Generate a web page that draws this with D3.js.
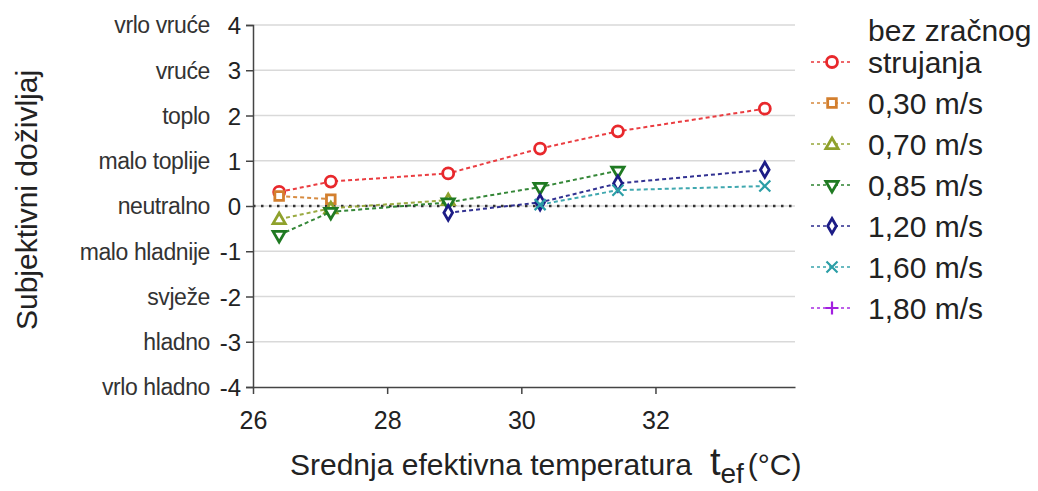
<!DOCTYPE html>
<html>
<head>
<meta charset="utf-8">
<script src="https://cdn.jsdelivr.net/npm/d3@7"></script>
<style>
  body { margin: 0; background: #fff; }
  svg { font-family: Arial, "Liberation Sans", sans-serif; }
</style>
</head>
<body>
<svg width="1038" height="491"></svg>
<script>
// podaci ocitani sa slike
let nazivi = ["bez zračnog strujanja", "0,30 m/s", "0,70 m/s", "0,85 m/s", "1,20 m/s", "1,60 m/s", "1,80 m/s"];
let boje = ["#e8282c", "#d37f2e", "#8fa12c", "#1f7a22", "#1c1c86", "#2b9ea6", "#a21fe0"];
let oblici = ["circle", "square", "triangle", "triangleDown", "diamond", "cross", "plus"];

let t_bez = [26.39, 27.16, 28.91, 30.28, 31.44, 33.63];
let v_bez = [0.31, 0.54, 0.72, 1.27, 1.65, 2.15];
let t_030 = [26.39, 27.16];
let v_030 = [0.22, 0.15];
let t_070 = [26.39, 27.16, 28.91];
let v_070 = [-0.29, -0.05, 0.13];
let t_085 = [26.39, 27.16, 28.91, 30.28, 31.44];
let v_085 = [-0.64, -0.13, 0.08, 0.42, 0.78];
let t_120 = [28.91, 30.28, 31.44, 33.63];
let v_120 = [-0.15, 0.08, 0.5, 0.8];
let t_160 = [30.28, 31.44, 33.63];
let v_160 = [0.03, 0.35, 0.44];
let t_180 = [];
let v_180 = [];

let y_vrijednosti = [4, 3, 2, 1, 0, -1, -2, -3, -4];
let y_opisi = ["vrlo vruće", "vruće", "toplo", "malo toplije", "neutralno", "malo hladnije", "svježe", "hladno", "vrlo hladno"];
let x_tickovi = [26, 28, 30, 32];

let serije = [
  [t_bez, v_bez], [t_030, v_030], [t_070, v_070], [t_085, v_085],
  [t_120, v_120], [t_160, v_160], [t_180, v_180]
].map((s, i) => ({
  naziv: nazivi[i], boja: boje[i], oblik: oblici[i],
  tocke: s[0].map((t, j) => ({ t: t, v: s[1][j] }))
}));

let $svg = d3.select("svg");

let x = d3.scaleLinear().domain([26, 34.08]).range([253, 795]);
let y = d3.scaleLinear().domain([-4, 4]).range([387, 25]);

// mreza
$svg.append("g").selectAll("line")
  .data(y_vrijednosti.filter(d => d > -4))
  .enter().append("line")
  .attr("x1", x(26)).attr("x2", x(34.08))
  .attr("y1", d => y(d)).attr("y2", d => y(d))
  .attr("stroke", "#d9d9d9").attr("stroke-width", 1.5);

// nula
$svg.append("line")
  .attr("x1", x(26)).attr("x2", x(34.08))
  .attr("y1", y(0)).attr("y2", y(0))
  .attr("stroke", "#333").attr("stroke-width", 2.5)
  .attr("stroke-dasharray", "2.5,5.5");

// osi
let yOs = $svg.append("g")
  .attr("transform", `translate(${x(26)},0)`)
  .call(d3.axisLeft(y).tickValues(y_vrijednosti).tickSize(7).tickFormat(d => d));
let xOs = $svg.append("g")
  .attr("transform", `translate(0,${y(-4)})`)
  .call(d3.axisBottom(x).tickValues(x_tickovi).tickSize(7).tickSizeOuter(0));

[yOs, xOs].forEach(o => {
  o.select(".domain").attr("stroke", "#444").attr("stroke-width", 1.5);
  o.selectAll(".tick line").attr("stroke", "#444").attr("stroke-width", 1.5);
  o.selectAll("text").attr("fill", "#222").style("font-family", "Arial, 'Liberation Sans', sans-serif");
});
yOs.selectAll("text").attr("x", -12).attr("dy", "0.36em").style("font-size", "24px");
xOs.selectAll("text").attr("y", 42).attr("dy", "0").style("font-size", "25px");

// opisi uz y os
$svg.append("g").selectAll("text")
  .data(y_opisi)
  .enter().append("text")
  .attr("x", 210)
  .attr("y", (d, i) => y(y_vrijednosti[i]))
  .attr("dy", "0.36em")
  .attr("text-anchor", "end")
  .attr("fill", "#333")
  .style("font-size", "23px")
  .style("letter-spacing", "-0.4px")
  .text(d => d);

// naslovi osi
$svg.append("text")
  .attr("transform", "translate(37,200) rotate(-90)")
  .attr("text-anchor", "middle")
  .attr("fill", "#222")
  .style("font-size", "30px")
  .text("Subjektivni doživljaj");

let xNaslov = $svg.append("text")
  .attr("x", 290).attr("y", 475)
  .attr("fill", "#222")
  .style("font-size", "30px");
xNaslov.append("tspan").text("Srednja efektivna temperatura");
xNaslov.append("tspan").attr("dx", 18).style("font-size", "38px").text("t");
xNaslov.append("tspan").attr("dy", 8).style("font-size", "28px").text("ef");
xNaslov.append("tspan").attr("dy", -8).attr("dx", 4).text("(°C)");

// markeri
function marker(g, oblik, boja) {
  if (oblik == "cross" || oblik == "plus") {
    let r = 5.5;
    let put = oblik == "cross"
      ? `M${-r},${-r}L${r},${r}M${-r},${r}L${r},${-r}`
      : `M${-r - 1},0L${r + 1},0M0,${-r - 1}L0,${r + 1}`;
    g.append("path").attr("d", put).attr("fill", "none")
      .attr("stroke", boja).attr("stroke-width", 2.2);
    return;
  }
  let sym = {
    circle: d3.symbolCircle, square: d3.symbolSquare, triangle: d3.symbolTriangle,
    triangleDown: d3.symbolTriangle, diamond: d3.symbolDiamond
  }[oblik];
  let size = { circle: 95, square: 75, triangle: 65, triangleDown: 65, diamond: 65 }[oblik];
  let p = g.append("path")
    .attr("d", d3.symbol().type(sym).size(size))
    .attr("fill", "#fff")
    .attr("stroke", boja)
    .attr("stroke-width", 2.8);
  if (oblik == "triangleDown") p.attr("transform", "rotate(180)");
  if (oblik == "triangle") p.attr("transform", "translate(0,1)");
}

let linija = d3.line().x(d => x(d.t)).y(d => y(d.v));

let $serije = $svg.append("g").selectAll("g.serija")
  .data(serije)
  .enter().append("g")
  .classed("serija", true);

$serije.append("path")
  .attr("d", d => linija(d.tocke))
  .attr("fill", "none")
  .attr("stroke", d => d.boja)
  .attr("stroke-width", 2)
  .attr("stroke-dasharray", "4,3")
  .attr("opacity", 0.9);

$serije.each(function(s) {
  let g = d3.select(this);
  s.tocke.forEach(p => {
    let m = g.append("g").attr("transform", `translate(${x(p.t)},${y(p.v)})`);
    marker(m, s.oblik, s.boja);
  });
});

// legenda
let leg_y = [62, 103, 144, 185, 226, 267, 308];
let $leg = $svg.append("g");
$leg.append("text")
  .attr("x", 868).attr("y", 30).attr("dy", "0.36em")
  .attr("fill", "#222").style("font-size", "30px")
  .text("bez zračnog");

serije.forEach((s, i) => {
  let g = $leg.append("g").attr("transform", `translate(0,${leg_y[i]})`);
  g.append("line")
    .attr("x1", 811).attr("x2", 853).attr("y1", 0).attr("y2", 0)
    .attr("stroke", s.boja).attr("stroke-width", 2)
    .attr("stroke-dasharray", "3,3").attr("opacity", 0.7);
  let m = g.append("g").attr("transform", "translate(832,0)");
  marker(m, s.oblik, s.boja);
  g.append("text")
    .attr("x", 868).attr("y", 0).attr("dy", "0.36em")
    .attr("fill", "#222").style("font-size", "30px")
    .text(i == 0 ? "strujanja" : s.naziv);
});
</script>
</body>
</html>
